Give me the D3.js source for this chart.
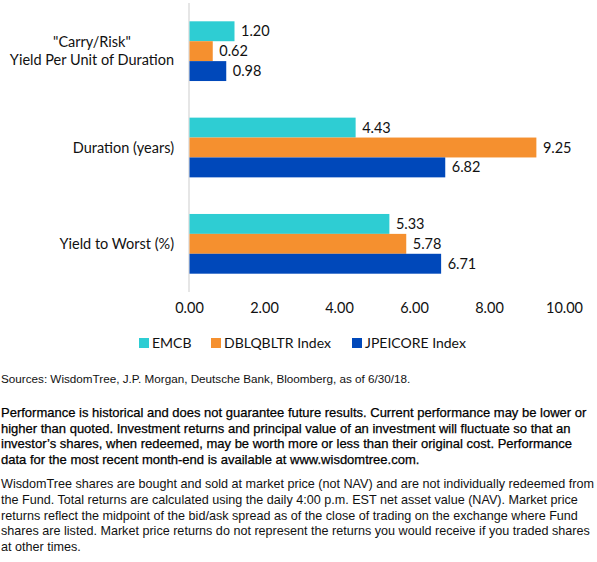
<!DOCTYPE html>
<html><head><meta charset="utf-8">
<script src="https://cdn.jsdelivr.net/npm/d3@7"></script>
<style>
html,body{margin:0;padding:0;background:#fff;}
svg{display:block;}
</style></head>
<body>
<script>
const categories = [["\"Carry/Risk\"", "Yield Per Unit of Duration"], ["Duration (years)"], ["Yield to Worst (%)"]];
const seriesNames = ["EMCB", "DBLQBLTR Index", "JPEICORE Index"];
const emcb = [1.20, 4.43, 5.33];
const dblqbltr = [0.62, 9.25, 5.78];
const jpeicore = [0.98, 6.82, 6.71];
const tickValues = [0, 2, 4, 6, 8, 10];
const colors = ["#2ECDD3", "#F5902F", "#0048BA"];
const footSources = "Sources: WisdomTree, J.P. Morgan, Deutsche Bank, Bloomberg, as of 6/30/18.";
const footPerf = ["Performance is historical and does not guarantee future results. Current performance may be lower or",
 "higher than quoted. Investment returns and principal value of an investment will fluctuate so that an",
 "investor\u2019s shares, when redeemed, may be worth more or less than their original cost. Performance",
 "data for the most recent month-end is available at www.wisdomtree.com."];
const footWT = ["WisdomTree shares are bought and sold at market price (not NAV) and are not individually redeemed from",
 "the Fund. Total returns are calculated using the daily 4:00 p.m. EST net asset value (NAV). Market price",
 "returns reflect the midpoint of the bid/ask spread as of the close of trading on the exchange where Fund",
 "shares are listed. Market price returns do not represent the returns you would receive if you traded shares",
 "at other times."];

const series = [emcb, dblqbltr, jpeicore];
const W = 597, H = 562;
const svg = d3.select("body").append("svg").attr("width", W).attr("height", H);
const labelFont = "Lato, 'Open Sans', sans-serif";

const x = d3.scaleLinear().domain([0, 10]).range([189, 564]);
const y = d3.scaleBand().domain(d3.range(categories.length)).range([3, 292]).paddingInner(0.38).paddingOuter(0.19);
const ys = d3.scaleBand().domain(d3.range(series.length)).range([0, y.bandwidth()]);

// axis line
svg.append("line").attr("x1", x(0)).attr("x2", x(0)).attr("y1", 3).attr("y2", 292)
  .attr("stroke", "#d9d9d9").attr("stroke-width", 1.3);

// bars
series.forEach((vals, si) => {
  const g = svg.append("g");
  g.selectAll("rect").data(vals).enter().append("rect")
    .attr("x", x(0) + 0.5)
    .attr("y", (d, i) => y(i) + ys(si))
    .attr("width", d => x(d) - x(0))
    .attr("height", ys.bandwidth())
    .attr("fill", colors[si]);
  g.selectAll("text").data(vals).enter().append("text")
    .attr("x", d => x(d) + 7)
    .attr("y", (d, i) => y(i) + ys(si) + ys.bandwidth() / 2)
    .attr("dy", "0.35em")
    .attr("font-family", labelFont).attr("font-size", 14.5).attr("fill", "#111")
    .text(d => d.toFixed(2));
});

// category labels
categories.forEach((lines, i) => {
  const cy = y(i) + y.bandwidth() / 2;
  const g = svg.append("g");
  const lh = 18;
  const texts = lines.map((t, k) => g.append("text")
    .attr("y", cy + (k - (lines.length - 1) / 2) * lh)
    .attr("dy", "0.35em")
    .attr("font-family", labelFont).attr("font-size", 14.5).attr("fill", "#111")
    .attr("text-anchor", "middle").text(t));
  const wMax = d3.max(texts, t => t.node().getComputedTextLength());
  const cx = 174 - wMax / 2;
  texts.forEach(t => t.attr("x", cx));
});

// x axis
const axis = d3.axisBottom(x).tickValues(tickValues).tickFormat(d3.format(".2f")).tickSize(0).tickPadding(0);
const ag = svg.append("g").attr("transform", "translate(0,303)").call(axis);
ag.select(".domain").remove();
ag.selectAll("text").attr("font-family", labelFont).attr("font-size", 14.5).attr("fill", "#111");

// legend
const legX = [139, 211, 352];
seriesNames.forEach((n, i) => {
  svg.append("rect").attr("x", legX[i]).attr("y", 338).attr("width", 10).attr("height", 10).attr("fill", colors[i]);
  svg.append("text").attr("x", legX[i] + 13).attr("y", 343).attr("dy", "0.35em")
    .attr("font-family", labelFont).attr("font-size", 14).attr("fill", "#111").text(n);
});

// footnotes
const ff = "'Liberation Sans', Arial, sans-serif";
svg.append("text").attr("x", 1).attr("y", 383).attr("font-family", ff).attr("font-size", 11.7).attr("fill", "#111").text(footSources);
footPerf.forEach((t, k) => svg.append("text").attr("x", 1).attr("y", 417 + k * 15.6)
  .attr("font-family", ff).attr("font-size", 13).attr("fill", "#000").attr("stroke", "#000").attr("stroke-width", 0.25).text(t));
footWT.forEach((t, k) => svg.append("text").attr("x", 1).attr("y", 488 + k * 15.8)
  .attr("font-family", ff).attr("font-size", 12.6).attr("fill", "#111").text(t));
</script>
</body></html>
